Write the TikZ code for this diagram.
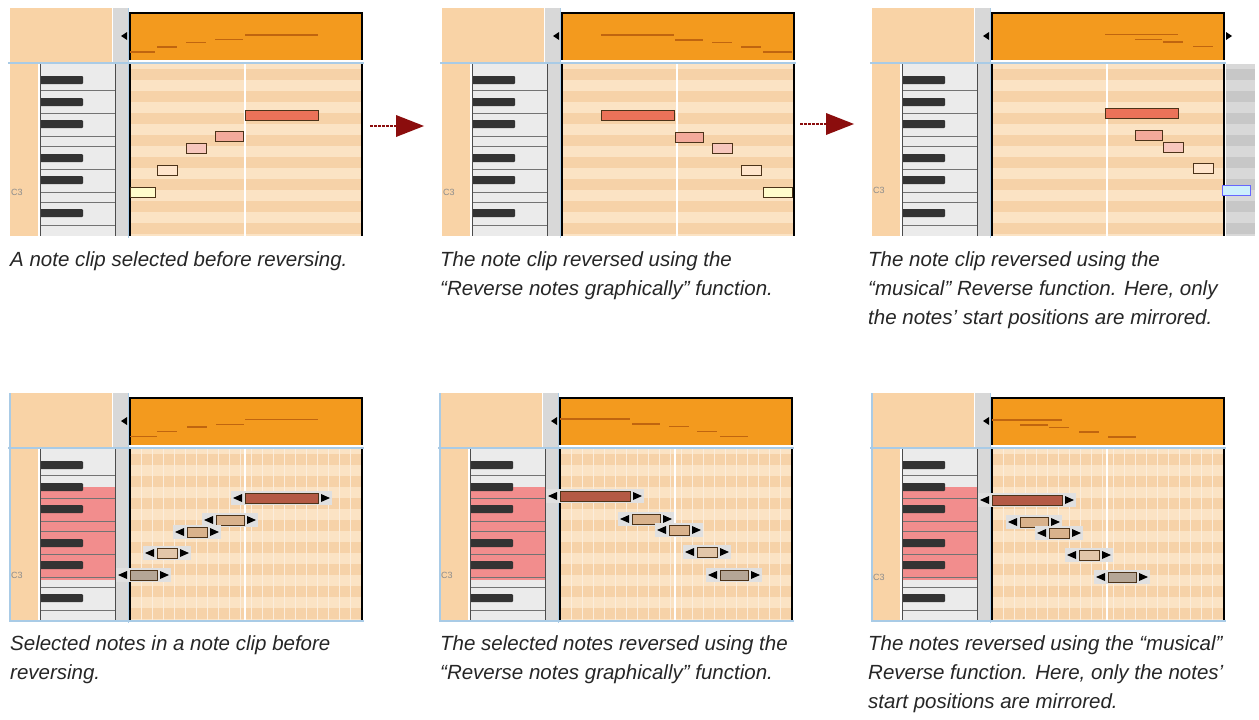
\documentclass[tikz,border=0pt]{standalone}
\usepackage{fontspec}
\setmainfont{Liberation Sans}
\begin{document}
\definecolor{tanL}{HTML}{F9D3A6}
\definecolor{tanS}{HTML}{FBE3C4}
\definecolor{tanD}{HTML}{F6D2A8}
\definecolor{org}{HTML}{F39A1E}
\definecolor{orgD}{HTML}{C0650F}
\definecolor{lblue}{HTML}{A9CBE6}
\definecolor{gstrip}{HTML}{D8D8D8}
\definecolor{pinkk}{HTML}{F28D8D}
\definecolor{arr}{HTML}{8B0D0D}
\definecolor{nred}{HTML}{EB7259}
\definecolor{nbr}{HTML}{B45A45}
\tikzset{
 captxt/.style={font=\itshape\fontsize{20.5}{29}\selectfont, anchor=north west, align=left, inner sep=0pt, text=black!85},
 noteb/.style={draw=black!60!brown, line width=1pt},
}
\newcommand\panel[3]{% gridstart x, y offset, bottom(0/1)
\begin{scope}[shift={(#1-130,#2)}]
 \fill[tanL] (10,8) rectangle (112,62);
 \fill[gstrip] (113,8) rectangle (128,62);
 \fill[org] (130,13) rectangle (362,60);
 \draw[line width=2.5pt] (130,60) -- (130,13) -- (362,13) -- (362,60);
 \fill[black] (121,36) -- (127,32) -- (127,40) -- cycle;
 \fill[tanL] (10,64) rectangle (38,236);
 \fill[white!92!black] (40,64) rectangle (115,236);
 \ifnum#3=1 \fill[pinkk] (40,102) rectangle (115,195); \fi
 \foreach \y in {90,113,136,146,169,192,202,225} \draw[black!55] (40,\y) -- (115,\y);
 \foreach \y in {80,102,124,158,180,213} \fill[black!80, rounded corners=1pt] (40,\y-4) rectangle (83,\y+4);
 \draw[black!70, line width=1pt] (40,64) -- (40,236) (115,64) -- (115,236);
 \fill[gstrip] (116,64) rectangle (128,236);
 \fill[tanS] (130,64) rectangle (362,236);
 \foreach \y in {69,91,113,135,157,179,201,223} \fill[tanD] (130,\y) rectangle (362,\y+11);
 \ifnum#3=1 \foreach \x in {141,152,...,360} \draw[white!60!tanD, line width=0.6pt] (\x,64) -- (\x,236); \fi
 \draw[white, line width=1.2pt] (245,64) -- (245,236);
 \draw[line width=2.5pt] (130,64) -- (130,236) (362,64) -- (362,236);
 \draw[lblue, line width=2pt] (8,62.5) -- (364,62.5);
 \draw[lblue, line width=1pt] (128.5,8) -- (128.5,238);
 \ifnum#3=1 \draw[lblue, line width=2pt] (10,8) -- (10,236) -- (364,236); \fi
\end{scope}}
\newcommand\nt[5]{% x1 x2 y (top) fill handles
 \draw[orgD, line width=1.5pt] (#1, {13+\yo+ 22+ (#3-\yo-110)*0.22}) -- (#2, {13+\yo+22+(#3-\yo-110)*0.22});
 \ifnum#5=1
  \fill[black!12] (#1-14,#3-2) rectangle (#2+14,#3+12);
  \fill[black] (#1-12,#3+5) -- (#1-3,#3+1) -- (#1-3,#3+9) -- cycle;
  \fill[black] (#2+12,#3+5) -- (#2+3,#3+1) -- (#2+3,#3+9) -- cycle;
 \fi
 \draw[noteb, fill=#4] (#1,#3) rectangle (#2,#3+10);}
\begin{tikzpicture}[x=1pt,y=-1pt]
\useasboundingbox (0,0) rectangle (1259,720);
\fill[white] (0,0) rectangle (1259,720);
% top row
\def\yo{0}
\panel{130}{0}{0}
\nt{245}{318}{110}{nred}{0}
\nt{215}{243}{131}{nred!60!white}{0}
\nt{186}{206}{143}{nred!40!white}{0}
\nt{157}{177}{165}{orange!20!white}{0}
\nt{130}{155}{187}{yellow!20!white}{0}
\panel{562}{0}{0}
\nt{601}{674}{110}{nred}{0}
\nt{675}{703}{132}{nred!60!white}{0}
\nt{712}{732}{143}{nred!40!white}{0}
\nt{741}{761}{165}{orange!20!white}{0}
\nt{763}{792}{187}{yellow!20!white}{0}
\panel{992}{0}{0}
\fill[gstrip] (1226,64) rectangle (1255,236);
\foreach \y in {69,91,113,135,157,179,201,223} \fill[black!22] (1226,\y) rectangle (1255,\y+11);
\fill[black] (1232,36) -- (1226,32) -- (1226,40) -- cycle;
\nt{1105}{1178}{108}{nred}{0}
\nt{1135}{1162}{130}{nred!60!white}{0}
\nt{1163}{1183}{142}{nred!40!white}{0}
\nt{1193}{1213}{163}{orange!20!white}{0}
\draw[blue!60, line width=1pt, fill=cyan!20] (1222,185) rectangle (1250,195);
% arrows
\coordinate (a1s) at (370,126); \coordinate (a1e) at (424,126);
\coordinate (a2s) at (800,124); \coordinate (a2e) at (854,124);
\foreach \s/\e in {a1s/a1e,a2s/a2e}{
 \draw[arr, line width=2pt, dash pattern=on 3pt off 1pt] (\s) -- ++(26,0);
 \fill[arr] (\e) -- ++(-28,-11) -- ++(0,22) -- cycle;}
% bottom row
\def\yo{385}
\panel{130}{385}{1}
\nt{245}{318}{493}{nbr}{1}
\nt{216}{244}{515}{brown!60!white}{1}
\nt{187}{207}{527}{brown!60!white}{1}
\nt{157}{177}{548}{brown!45!white}{1}
\nt{130}{157}{570}{brown!35!gray!70}{1}
\panel{560}{385}{1}
\nt{560}{630}{491}{nbr}{1}
\nt{632}{660}{514}{brown!60!white}{1}
\nt{669}{689}{525}{brown!60!white}{1}
\nt{697}{717}{547}{brown!45!white}{1}
\nt{720}{748}{570}{brown!35!gray!70}{1}
\panel{992}{385}{1}
\nt{992}{1062}{495}{nbr}{1}
\nt{1020}{1048}{517}{brown!60!white}{1}
\nt{1049}{1069}{528}{brown!60!white}{1}
\nt{1079}{1099}{550}{brown!45!white}{1}
\nt{1108}{1136}{572}{brown!35!gray!70}{1}
% C3 labels
\foreach \x/\y in {10/192,442/192,872/190,10/575,440/575,872/577}
 \node[font=\fontsize{9}{9}\selectfont, text=black!45, anchor=west, inner sep=0pt] (c\x\y) at (\x+1,\y) {C3};
% captions
\node[captxt] (t1) at (10,251) {A note clip selected before reversing.};
\node[captxt] (t2) at (440,251) {The note clip reversed using the\\“Reverse notes graphically” function.};
\node[captxt] (t3) at (868,251) {The note clip reversed using the\\“musical” Reverse function. Here, only\\the notes’ start positions are mirrored.};
\node[captxt] (t4) at (10,635) {Selected notes in a note clip before\\reversing.};
\node[captxt] (t5) at (440,635) {The selected notes reversed using the\\“Reverse notes graphically” function.};
\node[captxt] (t6) at (868,635) {The notes reversed using the “musical”\\Reverse function. Here, only the notes’\\start positions are mirrored.};
\end{tikzpicture}
\end{document}
